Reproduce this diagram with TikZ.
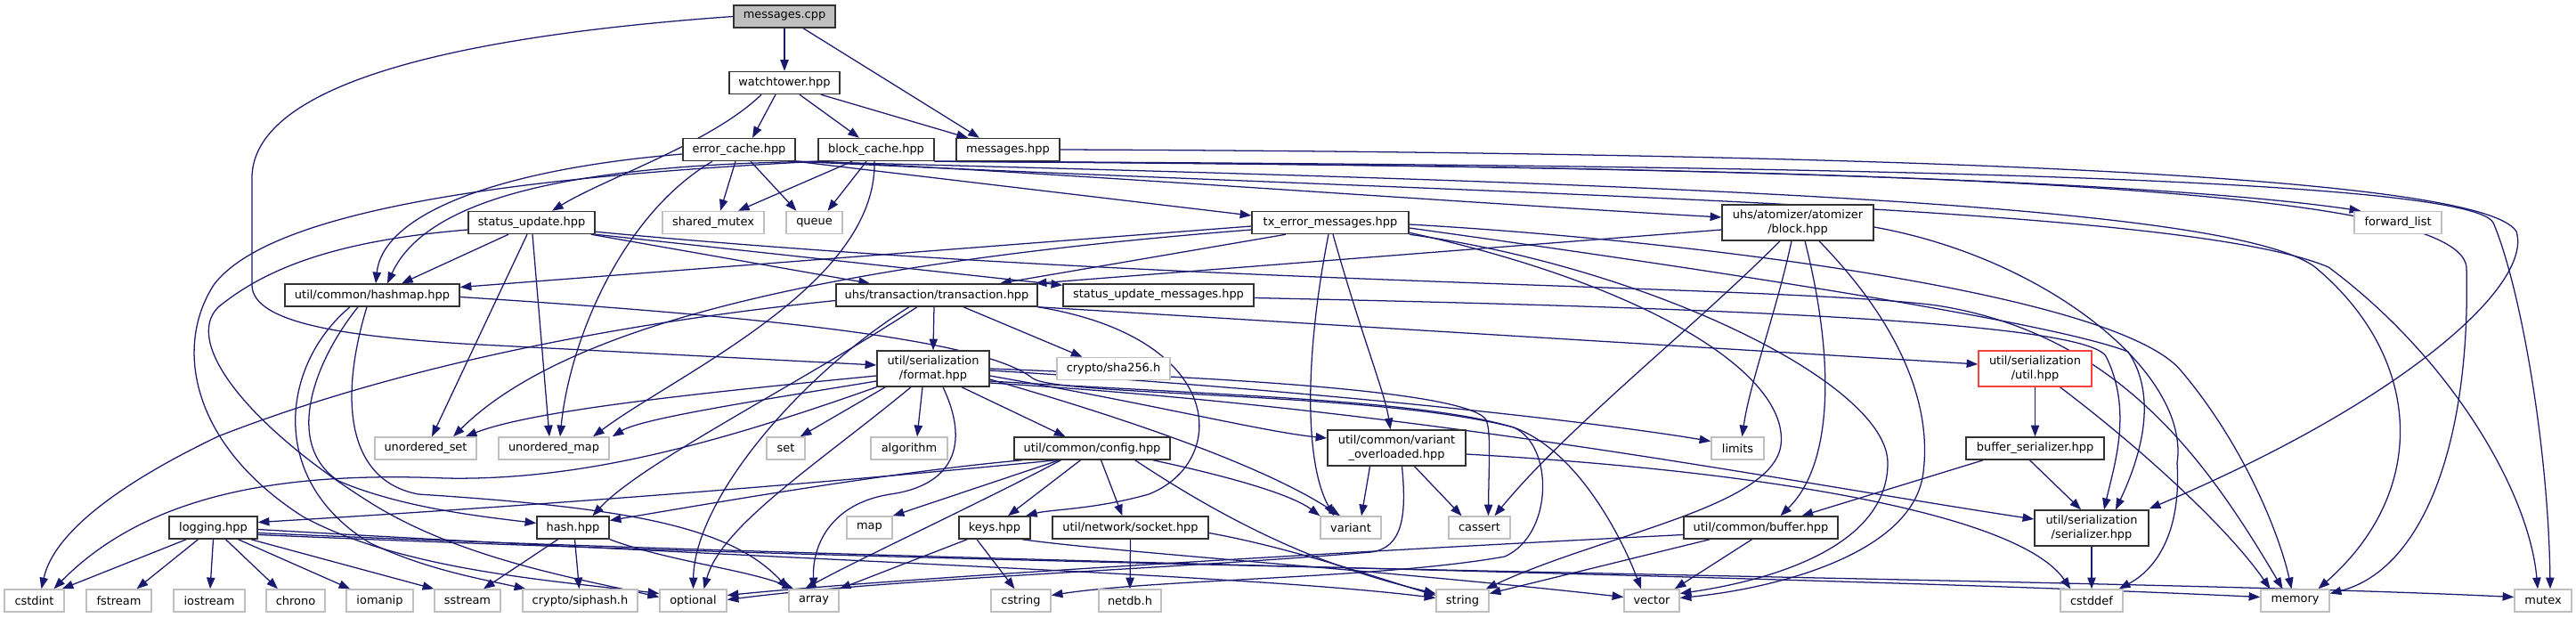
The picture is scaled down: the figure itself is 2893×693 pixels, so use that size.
\documentclass[tikz,border=0pt]{standalone}
\usepackage{fontspec}
\setmainfont{DejaVu Sans}
\usetikzlibrary{arrows.meta,calc}
\pgfdeclarelayer{bg}
\pgfsetlayers{bg,main}
\definecolor{edgec}{RGB}{25,25,112}
\definecolor{sysc}{RGB}{191,191,191}
\definecolor{mainfill}{RGB}{191,191,191}
\definecolor{truncc}{RGB}{255,64,64}
\definecolor{projc}{RGB}{50,50,50}
\begin{document}
\begin{tikzpicture}[x=0.75pt,y=-0.75pt,
  nb/.style={rectangle, inner sep=0pt, fill=white, line width=1.1pt, minimum height=18.75pt, font=\fontsize{9.7}{11.5}\selectfont, align=center},
  proj/.style={nb, draw=projc},
  sysn/.style={nb, draw=sysc},
  bw/.style={minimum width=#1*0.75pt},
  tall/.style={minimum height=30pt},
  edg/.style={draw=edgec, line width=0.95pt, -{Triangle[length=9.5pt,width=7pt]}}]
\useasboundingbox (0,0) rectangle (2893,693);
% nodes
\node[proj, fill=mainfill, bw=114] (mcpp) at (881,18.5) {messages.cpp};
\node[proj, bw=124] (wt) at (881,93) {watchtower.hpp};
\node[proj, bw=126] (errc) at (830,168) {error\_cache.hpp};
\node[proj, bw=130] (blkc) at (984,168) {block\_cache.hpp};
\node[proj, bw=116] (msgh) at (1132,168) {messages.hpp};
\node[proj, bw=142] (stupd) at (597,250) {status\_update.hpp};
\node[sysn, bw=114] (shm) at (801,250) {shared\_mutex};
\node[sysn, bw=63] (queue) at (914.5,250) {queue};
\node[proj, bw=176] (txerr) at (1494,250) {tx\_error\_messages.hpp};
\node[proj, bw=170, tall] (ablock) at (2019,250) {uhs/atomizer/atomizer\\/block.hpp};
\node[sysn, bw=98] (fwd) at (2693,250) {forward\_list};
\node[proj, bw=196] (hashmap) at (418,331.5) {util/common/hashmap.hpp};
\node[proj, bw=226] (trans) at (1052,331.5) {uhs/transaction/transaction.hpp};
\node[proj, bw=214] (sum) at (1301,331.5) {status\_update\_messages.hpp};
\node[proj, bw=126, tall] (format) at (1048,414) {util/serialization\\/format.hpp};
\node[sysn, bw=127] (sha) at (1250.5,414) {crypto/sha256.h};
\node[nb, draw=truncc, bw=127, tall] (utilh) at (2285.5,414) {util/serialization\\/util.hpp};
\node[sysn, bw=114] (uset) at (478,503.5) {unordered\_set};
\node[sysn, bw=124] (umap) at (622,503.5) {unordered\_map};
\node[sysn, bw=43] (set) at (882.5,503.5) {set};
\node[sysn, bw=86] (algo) at (1021,503.5) {algorithm};
\node[proj, bw=175] (config) at (1226.5,503.5) {util/common/config.hpp};
\node[proj, bw=155, tall] (varov) at (1568.5,503) {util/common/variant\\\_overloaded.hpp};
\node[sysn, bw=59] (limits) at (1951.5,503.5) {limits};
\node[proj, bw=155] (bufser) at (2285.5,503.5) {buffer\_serializer.hpp};
\node[proj, bw=99] (logging) at (239.5,592.5) {logging.hpp};
\node[proj, bw=81] (hash) at (643.5,592.5) {hash.hpp};
\node[sysn, bw=51] (map) at (976.5,592.5) {map};
\node[proj, bw=80] (keys) at (1117,592.5) {keys.hpp};
\node[proj, bw=175] (socket) at (1269.5,592.5) {util/network/socket.hpp};
\node[sysn, bw=68] (variant) at (1517,592.5) {variant};
\node[sysn, bw=69] (cassert) at (1661.5,592.5) {cassert};
\node[proj, bw=173] (buffer) at (1977.5,592.5) {util/common/buffer.hpp};
\node[proj, bw=128, tall] (ser) at (2349,593) {util/serialization\\/serializer.hpp};
\node[sysn, bw=67] (cstdint) at (38.5,674.5) {cstdint};
\node[sysn, bw=73] (fstream) at (133.5,674.5) {fstream};
\node[sysn, bw=80] (iostream) at (235,674.5) {iostream};
\node[sysn, bw=66] (chrono) at (332,674.5) {chrono};
\node[sysn, bw=75] (iomanip) at (426.5,674.5) {iomanip};
\node[sysn, bw=74] (sstream) at (525,674.5) {sstream};
\node[sysn, bw=129] (siphash) at (651.5,674.5) {crypto/siphash.h};
\node[sysn, bw=75] (optional) at (778.5,674.5) {optional};
\node[sysn, bw=56] (array) at (914,674.5) {array};
\node[sysn, bw=67] (cstring) at (1146.5,674.5) {cstring};
\node[sysn, bw=70] (netdb) at (1269,674.5) {netdb.h};
\node[sysn, bw=59] (string) at (1642.5,674.5) {string};
\node[sysn, bw=62] (vector) at (1855,674.5) {vector};
\node[sysn, bw=70] (cstddef) at (2349,674.5) {cstddef};
\node[sysn, bw=77] (memory) at (2577.5,674.5) {memory};
\node[sysn, bw=64] (mutex) at (2856,674.5) {mutex};
\begin{pgfonlayer}{bg}
% messages.cpp
\draw[edg] (mcpp.south) -- (wt.north);
\draw[edg] ($(mcpp.south)+(21,0)$) -- ($(msgh.north)+(-32,0)$);
\draw[edg] (mcpp.west) .. controls (450,45) and (283,110) .. (283,200) -- (283,320) .. controls (283,365) and (400,378) .. (520,386) -- ($(format.west)+(0,-4)$);
% watchtower
\draw[edg] ($(wt.south)+(-10,0)$) -- ($(errc.north)+(15,0)$);
\draw[edg] ($(wt.south)+(17,0)$) -- ($(blkc.north)+(-19,0)$);
\draw[edg] ($(wt.south)+(41,0)$) -- ($(msgh.north)+(-45,0)$);
\draw[edg] ($(wt.south)+(-26,0)$) .. controls (800,160) and (680,200) .. ($(stupd.north)+(23,0)$);
% error_cache
\draw[edg] ($(errc.south)+(-4,0)$) -- ($(shm.north)+(8,0)$);
\draw[edg] ($(errc.south)+(13,0)$) -- ($(queue.north)+(-20,0)$);
\draw[edg] ($(errc.west)+(0,5)$) .. controls (560,190) and (430,240) .. ($(hashmap.north)+(4,0)$);
\draw[edg] (errc.south east) -- ($(txerr.west)+(0,-8)$);
\draw[edg] ($(errc.south)+(-30,0)$) .. controls (700,240) and (640,380) .. ($(umap.north)+(7,0)$);
\draw[edg] (errc.south east) .. controls (1700,220) and (2450,230) .. (2615,300) .. controls (2750,400) and (2840,550) .. ($(mutex.north)+(-6,0)$);
\draw[edg] (errc.south east) .. controls (1800,205) and (2500,225) .. (2600,300) .. controls (2720,400) and (2730,550) .. ($(memory.north)+(26,0)$);
% block_cache
\draw[edg] ($(blkc.south)+(-27,0)$) -- ($(shm.north)+(28,0)$);
\draw[edg] ($(blkc.south)+(-11,0)$) -- ($(queue.north)+(15,0)$);
\draw[edg] (blkc.south west) .. controls (650,185) and (480,220) .. ($(hashmap.north)+(17,0)$);
\draw[edg] ($(blkc.south)+(-2,0)$) .. controls (985,320) and (760,420) .. ($(umap.north)+(44,0)$);
\draw[edg] (blkc.south west) .. controls (550,200) and (300,240) .. (240,320) .. controls (195,390) and (215,500) .. (340,580) .. controls (450,640) and (620,652) .. ($(optional.west)+(0,-8)$);
\draw[edg] (blkc.south west) .. controls (1200,195) and (1600,225) .. ($(ablock.west)+(0,-6)$);
\draw[edg] (blkc.south east) .. controls (1800,185) and (2400,200) .. ($(fwd.north west)+(8,0)$);
\draw[edg] (blkc.south east) .. controls (1900,185) and (2770,195) .. (2800,250) .. controls (2830,320) and (2862,500) .. ($(mutex.north)+(8,0)$);
\draw[edg] (blkc.south east) .. controls (2000,188) and (2760,200) .. (2770,300) .. controls (2775,500) and (2720,640) .. ($(memory.east)+(0,-8)$);
% messages.hpp
\draw[edg] (msgh.east) .. controls (2200,172) and (2790,200) .. (2826,260) .. controls (2845,320) and (2700,450) .. ($(ser.north east)+(0,-1)$);
% status_update
\draw[edg] ($(stupd.south)+(-26,0)$) -- ($(hashmap.north)+(33,0)$);
\draw[edg] ($(stupd.south)+(-5,0)$) -- ($(uset.north)+(7,0)$);
\draw[edg] ($(stupd.south)+(1,0)$) -- ($(umap.north)+(-5,0)$);
\draw[edg] ($(stupd.south east)+(-5,0)$) -- ($(trans.north)+(-75,0)$);
\draw[edg] (stupd.south east) -- ($(sum.north west)+(0,2)$);
\draw[edg] ($(stupd.west)+(0,8)$) .. controls (380,270) and (300,300) .. (245,345) .. controls (205,385) and (280,480) .. (420,567) .. controls (520,628) and (650,650) .. ($(optional.west)+(0,-4)$);
\draw[edg] ($(stupd.south east)+(0,-3)$) .. controls (1300,320) and (2000,320) .. (2175,343) .. controls (2380,375) and (2480,520) .. ($(memory.north)+(-14,0)$);
% tx_error_messages
\draw[edg] ($(txerr.west)+(0,4)$) -- ($(hashmap.east)+(0,-9)$);
\draw[edg] ($(txerr.west)+(0,8)$) .. controls (1000,290) and (650,350) .. ($(uset.north)+(31,0)$);
\draw[edg] ($(txerr.south)+(-50,0)$) -- ($(trans.north)+(71,0)$);
\draw[edg] ($(txerr.south)+(-2,0)$) .. controls (1465,400) and (1465,520) .. ($(variant.north)+(-19,0)$);
\draw[edg] ($(txerr.south)+(3,0)$) .. controls (1530,380) and (1555,440) .. ($(varov.north)+(-7,0)$);
\draw[edg] ($(txerr.east)+(0,2)$) .. controls (1900,270) and (2380,330) .. (2450,417) .. controls (2520,500) and (2560,600) .. ($(memory.north)+(-4,0)$);
\draw[edg] ($(txerr.east)+(0,6)$) .. controls (1900,300) and (2300,360) .. (2390,395) .. controls (2420,440) and (2410,500) .. ($(ser.north)+(27,0)$);
\draw[edg] ($(txerr.south east)+(0,-2)$) .. controls (1850,320) and (2010,420) .. (2000,500) .. controls (1990,570) and (1800,600) .. ($(string.north east)+(-4,0)$);
\draw[edg] (txerr.south east) .. controls (1850,300) and (2120,430) .. (2120,520) .. controls (2120,610) and (2000,650) .. ($(vector.east)+(0,-8)$);
% transaction
\draw[edg] ($(trans.south)+(-3,0)$) -- (format.north);
\draw[edg] ($(trans.south)+(30,0)$) -- ($(sha.north)+(-35,0)$);
\draw[edg] ($(trans.west)+(0,6)$) .. controls (700,362) and (450,410) .. (245,490) .. controls (130,545) and (60,600) .. ($(cstdint.north)+(8,0)$);
\draw[edg] ($(trans.south)+(-31,0)$) .. controls (900,420) and (780,560) .. (optional.north);
\draw[edg] ($(trans.south)+(-22,0)$) .. controls (900,430) and (720,520) .. ($(hash.north)+(22,0)$);
\draw[edg] (trans.south east) .. controls (1380,380) and (1380,520) .. (1290,555) .. controls (1230,572) and (1180,572) .. ($(keys.north)+(35,0)$);
\draw[edg] (trans.south east) -- ($(utilh.west)+(0,-5)$);
% status_update_messages
\draw[edg] ($(sum.east)+(0,3)$) .. controls (1900,345) and (2340,360) .. (2365,400) .. controls (2395,460) and (2375,520) .. ($(ser.north)+(14,0)$);
% format
\draw[edg] ($(format.south west)+(10,0)$) -- ($(set.north east)+(-6,0)$);
\draw[edg] ($(format.south)+(-12,0)$) -- ($(algo.north)+(9,0)$);
\draw[edg] ($(format.south)+(32,0)$) -- ($(config.north)+(-30,0)$);
\draw[edg] ($(format.south)+(-25,0)$) .. controls (920,520) and (810,590) .. ($(optional.north)+(12,0)$);
\draw[edg] ($(format.south)+(11,0)$) .. controls (1090,500) and (1070,545) .. (1000,555) .. controls (935,565) and (912,610) .. (array.north);
\draw[edg] ($(format.west)+(0,8)$) .. controls (800,440) and (600,460) .. ($(uset.north east)+(-13,0)$);
\draw[edg] ($(format.west)+(0,14)$) .. controls (850,450) and (720,470) .. ($(umap.north east)+(3,0)$);
\draw[edg] (format.south west) .. controls (800,500) and (650,540) .. (500,537) .. controls (330,530) and (170,550) .. ($(cstdint.north)+(22,0)$);
\draw[edg] ($(format.east)+(0,8)$) .. controls (1300,455) and (1420,485) .. ($(varov.west)+(0,-11)$);
\draw[edg] ($(format.east)+(0,2)$) .. controls (1500,440) and (1800,475) .. ($(limits.west)+(0,-8)$);
\draw[edg] ($(format.east)+(0,12)$) .. controls (1300,480) and (1430,530) .. ($(variant.north)+(-12,0)$);
\draw[edg] (format.east) .. controls (1400,425) and (1640,440) .. (1668,470) .. controls (1675,480) and (1672,520) .. ($(cassert.north)+(10,0)$);
\draw[edg] ($(format.east)+(0,14)$) .. controls (1400,445) and (1600,450) .. (1700,480) .. controls (1770,505) and (1820,600) .. ($(vector.north)+(-12,0)$);
\draw[edg] ($(format.east)+(0,16)$) .. controls (1600,460) and (2000,540) .. ($(ser.west)+(0,-10)$);
% config
\draw[edg] ($(config.south west)+(10,0)$) .. controls (1000,530) and (800,565) .. ($(hash.east)+(0,-8)$);
\draw[edg] ($(config.south)+(-40,0)$) .. controls (900,545) and (600,568) .. ($(logging.east)+(0,-6)$);
\draw[edg] ($(config.south)+(-37,0)$) -- (map.north east);
\draw[edg] ($(config.south)+(-35,0)$) .. controls (1100,565) and (960,630) .. ($(array.north)+(-10,0)$);
\draw[edg] ($(config.south)+(-13,0)$) -- ($(keys.north)+(15,0)$);
\draw[edg] ($(config.south)+(10,0)$) -- ($(socket.north)+(-9,0)$);
\draw[edg] ($(config.south east)+(-20,0)$) .. controls (1380,535) and (1450,555) .. (variant.north west);
\draw[edg] ($(config.south east)+(-40,0)$) .. controls (1400,600) and (1500,640) .. ($(string.west)+(0,-8)$);
% logging
\draw[edg] ($(logging.south west)+(20,0)$) -- ($(cstdint.north east)+(-3,0)$);
\draw[edg] ($(logging.south)+(-17,0)$) -- ($(fstream.north)+(20,0)$);
\draw[edg] (logging.south) -- ($(iostream.north)+(1,0)$);
\draw[edg] ($(logging.south)+(14,0)$) -- ($(chrono.north)+(-20,0)$);
\draw[edg] ($(logging.south)+(28,0)$) -- ($(iomanip.north west)+(5,0)$);
\draw[edg] ($(logging.south east)+(-8,0)$) -- (sstream.north west);
\draw[edg] ($(logging.east)+(0,2)$) .. controls (900,630) and (1400,645) .. ($(string.west)+(0,-3)$);
\draw[edg] ($(logging.east)+(0,6)$) .. controls (1000,630) and (2000,645) .. ($(memory.west)+(0,-4)$);
\draw[edg] ($(logging.east)+(0,8)$) .. controls (1200,640) and (2400,650) .. ($(mutex.west)+(0,-4)$);
% hash
\draw[edg] ($(hash.south)+(-17,0)$) -- ($(sstream.north)+(18,0)$);
\draw[edg] ($(hash.south)+(2,0)$) -- ($(siphash.north)+(-1,0)$);
\draw[edg] (hash.south east) .. controls (750,630) and (840,640) .. ($(array.north west)+(6,0)$);
% hashmap
\draw[edg] ($(hashmap.south)+(-25,0)$) .. controls (315,410) and (300,540) .. (416,610) .. controls (480,640) and (540,650) .. ($(siphash.north west)+(4,0)$);
\draw[edg] ($(hashmap.south)+(-16,0)$) .. controls (350,410) and (320,500) .. (380,540) .. controls (450,570) and (540,580) .. ($(hash.west)+(0,-5)$);
\draw[edg] ($(hashmap.south)+(-6,0)$) .. controls (380,450) and (390,540) .. (470,555) .. controls (700,570) and (820,590) .. (array.north west);
\draw[edg] ($(hashmap.east)+(0,2)$) .. controls (900,358) and (1110,385) .. (1160,425) .. controls (1190,445) and (1550,440) .. (1700,480) .. controls (1745,500) and (1745,600) .. (1690,625) .. controls (1550,650) and (1300,650) .. ($(cstring.east)+(0,-6)$);
% keys
\draw[edg] ($(keys.south west)+(10,0)$) -- (array.north east);
\draw[edg] ($(keys.south)+(-20,0)$) -- ($(cstring.north)+(-7,0)$);
\draw[edg] ($(keys.south east)+(-10,0)$) .. controls (1250,620) and (1550,640) .. ($(vector.west)+(0,-4)$);
% socket
\draw[edg] (socket.south) -- (netdb.north);
\draw[edg] ($(socket.east)+(0,6)$) .. controls (1450,615) and (1550,650) .. ($(string.west)+(0,-6)$);
% buffer
\draw[edg] ($(buffer.west)+(0,8)$) .. controls (1500,620) and (1000,650) .. ($(optional.east)+(0,-6)$);
\draw[edg] ($(buffer.south west)+(30,0)$) -- ($(string.east)+(0,-8)$);
\draw[edg] ($(buffer.south)+(-10,0)$) -- ($(vector.north east)+(-6,0)$);
% buffer_serializer
\draw[edg] ($(bufser.south)+(-6,0)$) -- ($(ser.north)+(-12,0)$);
\draw[edg] ($(bufser.south west)+(20,0)$) -- ($(buffer.north)+(46,0)$);
% util.hpp
\draw[edg] (utilh.south) -- (bufser.north);
\draw[edg] ($(utilh.south)+(28,0)$) .. controls (2400,500) and (2500,590) .. ($(memory.north)+(-28,0)$);
% serializer
\draw[edg] (ser.south) -- (cstddef.north);
% variant_overloaded
\draw[edg] ($(varov.south)+(-30,0)$) -- ($(variant.north)+(12,0)$);
\draw[edg] ($(varov.south)+(20,0)$) -- ($(cassert.north)+(-20,0)$);
\draw[edg] ($(varov.south)+(6,0)$) .. controls (1580,580) and (1575,615) .. (1540,620) .. controls (1300,640) and (1000,650) .. ($(optional.east)+(0,-1)$);
\draw[edg] ($(varov.east)+(0,7)$) .. controls (2000,530) and (2270,580) .. ($(cstddef.north west)+(12,0)$);
% atomizer block
\draw[edg] ($(ablock.west)+(0,8)$) -- ($(trans.north east)+(-3,0)$);
\draw[edg] ($(ablock.south)+(-20,0)$) .. controls (1900,370) and (1760,480) .. ($(cassert.north)+(17,0)$);
\draw[edg] ($(ablock.south)+(-7,0)$) .. controls (1995,350) and (1965,430) .. ($(limits.north)+(5,0)$);
\draw[edg] ($(ablock.south)+(8,0)$) .. controls (2060,400) and (2060,520) .. ($(buffer.north)+(22,0)$);
\draw[edg] ($(ablock.south)+(24,0)$) .. controls (2130,360) and (2170,450) .. (2160,530) .. controls (2150,620) and (2000,660) .. ($(vector.east)+(0,-3)$);
\draw[edg] ($(ablock.east)+(0,5)$) .. controls (2300,290) and (2460,420) .. (2445,520) .. controls (2450,600) and (2420,640) .. ($(cstddef.north east)+(-5,0)$);
\end{pgfonlayer}
\end{tikzpicture}
\end{document}
